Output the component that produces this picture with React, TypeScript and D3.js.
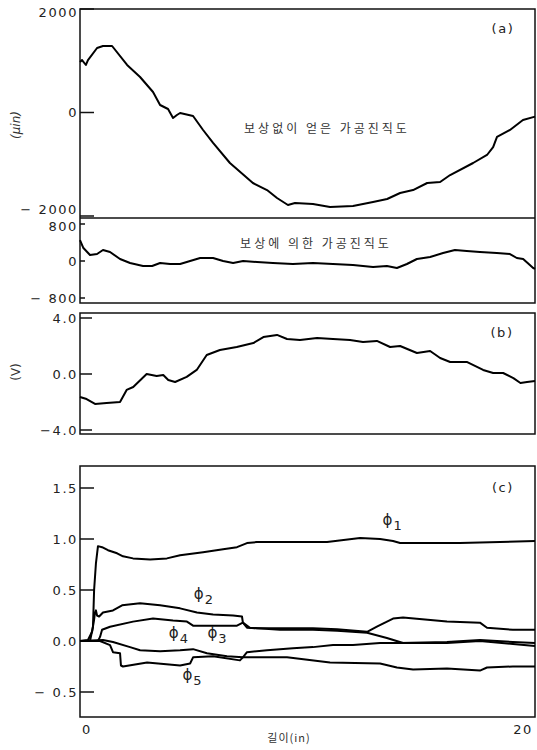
import React from "react";
import * as d3 from "d3";

// ---- data ----
const X_DOMAIN = [0, 20];

const A_X = [0, 0.09, 0.26, 0.35, 0.75, 1.01, 1.41, 2.07, 2.64, 3.21, 3.52, 3.87, 4.09, 4.26, 4.40, 4.97, 5.41, 5.85, 6.59, 7.60, 8.22, 8.66, 9.14, 9.45, 10.24, 10.99, 12.00, 12.88, 13.50, 14.07, 14.64, 15.26, 15.83, 16.27, 17.28, 17.89, 18.16, 18.33, 18.90, 19.47, 20.0];
const A_Y = [976, 1014, 918, 1014, 1246, 1285, 1285, 918, 686, 396, 145, 68, -106, -48, -10, -68, -338, -589, -976, -1362, -1498, -1652, -1787, -1749, -1768, -1826, -1807, -1729, -1671, -1556, -1498, -1362, -1343, -1208, -976, -821, -667, -473, -338, -145, -80];

const B_X = [0, 0.15, 0.44, 0.75, 1.01, 1.32, 1.76, 2.20, 2.77, 3.17, 3.52, 3.96, 4.40, 4.84, 5.28, 5.85, 6.29, 6.73, 7.17, 7.78, 8.48, 9.36, 10.24, 11.12, 12.0, 12.88, 13.49, 13.93, 14.37, 14.81, 15.39, 15.96, 16.48, 17.0, 17.58, 18.32, 18.9, 19.2, 19.48, 19.92, 20];
const B_Y = [450, 280, 130, 151, 238, 194, 43, -43, -108, -108, -43, -65, -65, 0, 65, 65, 0, -43, 0, -22, -43, -65, -43, -65, -86, -130, -108, -151, -65, 43, 86, 173, 238, 216, 194, 173, 151, 65, 43, -151, -170];

const C_X = [0, 0.29, 0.66, 1.17, 1.76, 2.05, 2.34, 2.93, 3.37, 3.66, 3.88, 4.18, 4.69, 5.13, 5.57, 6.15, 6.89, 7.62, 8.06, 8.66, 9.1, 9.67, 10.42, 11.12, 11.87, 12.44, 13.05, 13.63, 14.07, 14.81, 15.39, 15.83, 16.27, 17.0, 17.72, 18.16, 18.6, 19.05, 19.36, 19.65, 20];
const C_Y = [-1.64, -1.79, -2.14, -2.07, -2.0, -1.14, -0.93, 0, -0.14, -0.07, -0.43, -0.57, -0.21, 0.29, 1.36, 1.71, 1.93, 2.21, 2.64, 2.79, 2.5, 2.43, 2.57, 2.5, 2.43, 2.29, 2.36, 1.93, 2.0, 1.5, 1.64, 1.14, 0.86, 0.86, 0.29, 0.07, 0.07, -0.29, -0.64, -0.57, -0.5];

const P1_X = [0, 0.44, 0.57, 0.62, 0.70, 0.79, 0.97, 1.23, 1.63, 1.89, 2.33, 3.08, 3.82, 4.40, 5.41, 6.29, 6.90, 7.34, 7.78, 9.36, 10.86, 12.31, 13.19, 13.76, 14.07, 15.25, 16.70, 20];
const P1_Y = [0, 0, 0.14, 0.50, 0.76, 0.93, 0.92, 0.89, 0.86, 0.83, 0.81, 0.80, 0.81, 0.84, 0.87, 0.90, 0.92, 0.96, 0.97, 0.97, 0.97, 1.01, 1.00, 0.98, 0.96, 0.96, 0.96, 0.98];

const P2_X = [0, 0.35, 0.53, 0.62, 0.66, 0.70, 0.75, 0.84, 1.01, 1.45, 1.85, 2.64, 3.52, 4.40, 5.14, 5.85, 6.73, 7.12, 7.16, 7.34, 7.78, 8.79, 10.24, 11.30, 12.62, 13.05, 13.76, 14.20, 16.13, 17.58, 17.89, 19.03, 20];
const P2_Y = [0, 0.01, 0.09, 0.21, 0.28, 0.30, 0.25, 0.24, 0.28, 0.30, 0.35, 0.37, 0.35, 0.32, 0.28, 0.26, 0.25, 0.24, 0.18, 0.13, 0.125, 0.125, 0.125, 0.115, 0.09, 0.14, 0.22, 0.23, 0.19, 0.18, 0.13, 0.11, 0.11];

const P3_X = [0, 0.79, 0.88, 0.97, 1.32, 2.33, 3.21, 4.09, 4.70, 4.97, 5.58, 6.90, 7.16, 7.47, 8.79, 10.24, 11.30, 12.62, 13.49, 14.20, 16.13, 17.58, 19.03, 20];
const P3_Y = [0, 0, 0.04, 0.11, 0.14, 0.19, 0.22, 0.20, 0.19, 0.15, 0.15, 0.15, 0.18, 0.13, 0.11, 0.11, 0.10, 0.08, 0.03, -0.02, -0.02, 0.0, -0.03, -0.05];

const P4_X = [0, 1.01, 1.45, 2.20, 2.64, 3.52, 4.40, 4.97, 5.58, 6.46, 7.16, 7.34, 8.22, 9.36, 10.24, 11.12, 12.0, 13.19, 14.07, 16.13, 17.58, 19.03, 20];
const P4_Y = [0, 0.01, -0.01, -0.06, -0.09, -0.10, -0.09, -0.08, -0.12, -0.15, -0.16, -0.11, -0.09, -0.07, -0.06, -0.04, -0.04, -0.02, -0.02, -0.01, 0.01, -0.01, -0.02];

const P5_X = [0, 0.88, 1.32, 1.45, 1.76, 1.80, 1.89, 2.95, 4.40, 4.84, 4.97, 5.85, 7.03, 7.16, 8.04, 9.10, 10.99, 13.19, 13.93, 14.64, 16.13, 17.58, 17.89, 19.03, 20];
const P5_Y = [0, 0, -0.04, -0.11, -0.12, -0.24, -0.25, -0.21, -0.24, -0.22, -0.16, -0.15, -0.19, -0.16, -0.16, -0.16, -0.21, -0.22, -0.26, -0.28, -0.27, -0.29, -0.26, -0.25, -0.25];

const A_TICKS = [2000, 0, -2000];
const A_LABELS = ["2000", "0", "− 2000"];
const B_TICKS = [800, 0, -800];
const B_LABELS = ["800", "0", "− 800"];
const C_TICKS = [4, 0, -4];
const C_LABELS = ["4.0", "0.0", "−4.0"];
const D_TICKS = [1.5, 1.0, 0.5, 0.0, -0.5];
const D_LABELS = ["1.5", "1.0", "0.5", "0.0", "− 0.5"];
const X_TICKS = [0, 20];
const X_LABELS = ["0", "20"];

const PHI_LABELS = [
  { sub: "1", x: 13.3, y: 1.14 },
  { sub: "2", x: 5.0, y: 0.41 },
  { sub: "3", x: 5.6, y: 0.03 },
  { sub: "4", x: 3.9, y: 0.03 },
  { sub: "5", x: 4.5, y: -0.38 },
];

export default function App() {
  const L = 80, R = 535;
  const x = d3.scaleLinear().domain(X_DOMAIN).range([L, R]);
  const yA = d3.scaleLinear().domain([-2000, 2000]).range([216, 9]);
  const yB = d3.scaleLinear().domain([-800, 800]).range([298, 224]);
  const yC = d3.scaleLinear().domain([-4, 4]).range([430, 318]);
  const yD = d3.scaleLinear().domain([-0.5, 1.5]).range([692, 488]);

  const mk = (xs: number[], ys: number[], ys2: d3.ScaleLinear<number, number>) =>
    d3.line<number>().x((_, i) => x(xs[i])).y((_, i) => ys2(ys[i]))(ys) || "";

  const font = "'DejaVu Sans', sans-serif";
  const tickStyle = { fontFamily: font, fontSize: 13, letterSpacing: 1.6, fill: "#222" } as any;
  const kr = { fontFamily: "'Noto Sans CJK KR', sans-serif", fontSize: 12, letterSpacing: 3, fill: "#333" } as any;

  const ticks = (vals: number[], labels: string[], sc: any, len: number, dys: number[]) =>
    vals.map((v, i) => (
      <g key={i}>
        {len > 0 && <line x1={L} x2={L + len} y1={sc(v)} y2={sc(v)} stroke="#111" strokeWidth={1.5} />}
        <text x={L - 2} y={sc(v) + dys[i]} textAnchor="end" dominantBaseline="central" style={tickStyle}>{labels[i]}</text>
      </g>
    ));

  const lineStyle = { fill: "none", stroke: "#000", strokeWidth: 2, strokeLinejoin: "round" } as any;

  return (
    <div style={{ position: "absolute", left: 0, top: 0 }}>
      <svg width={537} height={750} style={{ display: "block", background: "#fff" }}>
        <rect x={L} y={9} width={R - L} height={303 - 9} fill="none" stroke="#111" strokeWidth={1.5} />
        <line x1={L} x2={R} y1={218} y2={218} stroke="#111" strokeWidth={1.5} />
        <rect x={L} y={313} width={R - L} height={434 - 313} fill="none" stroke="#111" strokeWidth={1.5} />
        <rect x={L} y={466} width={R - L} height={717 - 466} fill="none" stroke="#111" strokeWidth={1.5} />

        {ticks(A_TICKS, A_LABELS, yA, 14, [3, 0, -7])}
        {ticks(B_TICKS, B_LABELS, yB, 5, [2, 0, 0])}
        {ticks(C_TICKS, C_LABELS, yC, 12, [0, 0, 0])}
        {ticks(D_TICKS, D_LABELS, yD, 14, [0, 0, 0, 0, 0])}

        {X_TICKS.map((v, i) => (
          <text key={i} x={x(v) + (i === 0 ? 7 : -12)} y={729} textAnchor="middle" dominantBaseline="central" style={tickStyle}>{X_LABELS[i]}</text>
        ))}

        <path d={mk(A_X, A_Y, yA)} style={lineStyle} />
        <path d={mk(B_X, B_Y, yB)} style={lineStyle} />
        <path d={mk(C_X, C_Y, yC)} style={lineStyle} />
        <path d={mk(P1_X, P1_Y, yD)} style={lineStyle} />
        <path d={mk(P2_X, P2_Y, yD)} style={lineStyle} />
        <path d={mk(P3_X, P3_Y, yD)} style={lineStyle} />
        <path d={mk(P4_X, P4_Y, yD)} style={lineStyle} />
        <path d={mk(P5_X, P5_Y, yD)} style={lineStyle} />

        {PHI_LABELS.map((p, i) => (
          <text key={i} x={x(p.x)} y={yD(p.y)} style={{ fontFamily: font, fontSize: 15, fill: "#222" }}>
            ϕ<tspan dx={1} dy={5} style={{ fontSize: 13 }}>{p.sub}</tspan>
          </text>
        ))}

        <text x={327} y={127} textAnchor="middle" dominantBaseline="central" style={kr}>보상없이 얻은 가공진직도</text>
        <text x={316} y={242} textAnchor="middle" dominantBaseline="central" style={kr}>보상에 의한 가공진직도</text>
        <text x={289} y={737} textAnchor="middle" dominantBaseline="central" style={{ ...kr, fontSize: 11, letterSpacing: 1 }}>길이(in)</text>

        <text x={503} y={28} textAnchor="middle" dominantBaseline="central" style={tickStyle}>(a)</text>
        <text x={502} y={332} textAnchor="middle" dominantBaseline="central" style={tickStyle}>(b)</text>
        <text x={503} y={487} textAnchor="middle" dominantBaseline="central" style={tickStyle}>(c)</text>

        <text transform="translate(16,125) rotate(-90)" textAnchor="middle" dominantBaseline="central" style={{ fontFamily: font, fontSize: 12, fontStyle: "italic", fill: "#333" }}>(μin)</text>
        <text transform="translate(16,372) rotate(-90)" textAnchor="middle" dominantBaseline="central" style={{ fontFamily: font, fontSize: 12, fill: "#333" }}>(V)</text>
      </svg>
    </div>
  );
}
